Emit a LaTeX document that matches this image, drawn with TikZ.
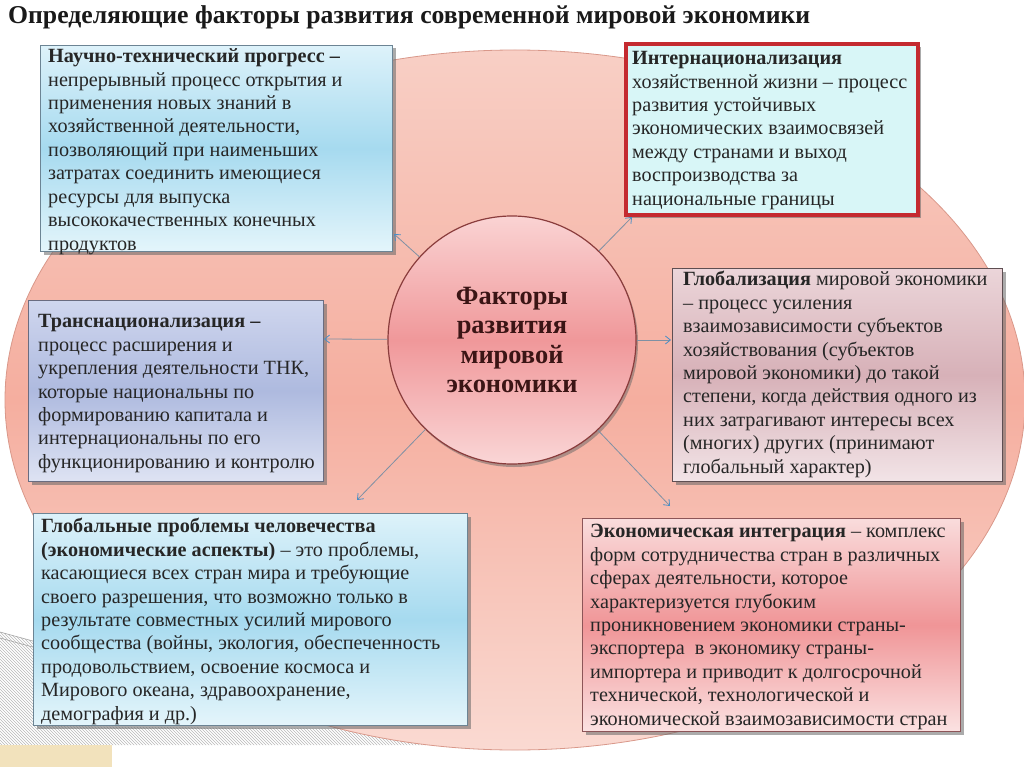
\documentclass[tikz,border=0pt]{standalone}
\usepackage{fontspec}
\setmainfont{Liberation Serif}
\usetikzlibrary{shadows,arrows.meta,patterns}
\definecolor{ellT}{HTML}{F8CFC5}
\definecolor{ellM}{HTML}{F5AE9F}
\definecolor{ellB}{HTML}{FADAD2}
\definecolor{ellbd}{HTML}{D9988A}
\definecolor{blueT}{HTML}{DDF2FA}
\definecolor{blueM}{HTML}{A6DAEF}
\definecolor{blueB}{HTML}{E4F5FB}
\definecolor{bluebd}{HTML}{6C8494}
\definecolor{cyanF}{HTML}{D8F6F7}
\definecolor{redbd}{HTML}{C42A30}
\definecolor{lavT}{HTML}{CFD6EE}
\definecolor{lavM}{HTML}{AEBADF}
\definecolor{lavB}{HTML}{DEE3F3}
\definecolor{lavbd}{HTML}{6A6C80}
\definecolor{mauT}{HTML}{EBD5D9}
\definecolor{mauM}{HTML}{D7B1B8}
\definecolor{mauB}{HTML}{F2E4E7}
\definecolor{maubd}{HTML}{5E4E52}
\definecolor{pnkT}{HTML}{F9DCDC}
\definecolor{pnkM}{HTML}{F09597}
\definecolor{pnkB}{HTML}{FBE2E2}
\definecolor{pnkbd}{HTML}{8C5558}
\definecolor{cirT}{HTML}{FAD3D3}
\definecolor{cirM}{HTML}{F0989A}
\definecolor{cirB}{HTML}{FAD6D6}
\definecolor{cirbd}{HTML}{8A3C3C}
\definecolor{arrc}{HTML}{7E90A4}
\definecolor{tipc}{HTML}{4A8EC6}
\definecolor{txtc}{HTML}{262626}
\definecolor{beige}{HTML}{F2E2BC}
\definecolor{circtxt}{HTML}{3B1515}
\begin{document}
\begin{tikzpicture}[x=1pt,y=-1pt,
  boxbase/.style={draw, line width=1pt, inner sep=0pt, anchor=north west,
    drop shadow={shadow xshift=3pt,shadow yshift=-3pt,fill=black!60,opacity=0.55}},
  bluebox/.style={boxbase, draw=bluebd, top color=blueT, bottom color=blueB, middle color=blueM},
  redbox/.style={boxbase, draw=redbd, line width=4pt, fill=cyanF},
  lavbox/.style={boxbase, draw=lavbd, top color=lavT, bottom color=lavB, middle color=lavM},
  maubox/.style={boxbase, draw=maubd, top color=mauT, bottom color=mauB, middle color=mauM},
  pnkbox/.style={boxbase, draw=pnkbd, top color=pnkT, bottom color=pnkB, middle color=pnkM},
  txt/.style={anchor=north west, inner sep=0pt, align=left, text=txtc,
    font=\fontsize{20.2}{23.4}\selectfont},
  circ/.style={circle, draw=cirbd, line width=1.2pt, top color=cirT, bottom color=cirB, middle color=cirM,
    minimum size=248pt, inner sep=0pt, align=center, text=circtxt,
    font=\bfseries\fontsize{26.4}{29.5}\selectfont,
    drop shadow={shadow xshift=2pt,shadow yshift=-3pt,fill=black!60,opacity=0.5}},
  arr/.style={draw=arrc, line width=0.8pt, -{Straight Barb[length=5pt,width=8pt,color=tipc]}},
]
\useasboundingbox (0,0) rectangle (1024,767);
\fill[white] (0,0) rectangle (1024,767);
% decorations
\fill[pattern=north west lines, pattern color=gray!55] (0,632) -- (40,643) -- (40,726) -- (470,730) -- (470,745) -- (0,745) -- cycle;
\draw[gray!70, line width=0.6pt] (0,632) -- (40,643);
\draw[gray!70, line width=0.6pt] (0,638) -- (40,649);
\fill[beige] (0,745) rectangle (112,767);
% background ellipse
\path[draw=ellbd, line width=0.8pt, top color=ellT, bottom color=ellB, middle color=ellM]
  (515,400) ellipse [x radius=510, y radius=350];
% title
\node[anchor=west, inner sep=0pt, text=black!90, font=\bfseries\fontsize{25.7}{30}\selectfont] (title) at (8,17)
  {Определяющие факторы развития современной мировой экономики};
% boxes
\node[bluebox, minimum width=352pt, minimum height=206pt] (ntp) at (40,45) {};
\node[redbox, minimum width=292pt, minimum height=171pt] (intl) at (624,42) {};
\node[lavbox, minimum width=295pt, minimum height=181pt] (trans) at (28,300) {};
\node[maubox, minimum width=330pt, minimum height=213pt] (glob) at (672,268) {};
\node[bluebox, minimum width=434pt, minimum height=212pt] (probl) at (33,513) {};
\node[pnkbox, minimum width=378pt, minimum height=213pt] (integ) at (582,518) {};
% texts
\node[txt] (tntp) at (48,47) {\rule{0pt}{15.6pt}\textbf{Научно-технический прогресс –}\\
непрерывный процесс открытия и\\
применения новых знаний в\\
хозяйственной деятельности,\\
позволяющий при наименьших\\
затратах соединить имеющиеся\\
ресурсы для выпуска\\
высококачественных конечных\\
продуктов};
\node[txt] (tintl) at (632,49) {\rule{0pt}{15.6pt}\textbf{Интернационализация}\\
хозяйственной жизни – процесс\\
развития устойчивых\\
экономических взаимосвязей\\
между странами и выход\\
воспроизводства за\\
национальные границы};
\node[txt] (ttrans) at (38,312) {\rule{0pt}{15.6pt}\textbf{Транснационализация –}\\
процесс расширения и\\
укрепления деятельности ТНК,\\
которые национальны по\\
формированию капитала и\\
интернациональны по его\\
функционированию и контролю};
\node[txt] (tglob) at (683,270) {\rule{0pt}{15.6pt}\textbf{Глобализация} мировой экономики\\
– процесс усиления\\
взаимозависимости субъектов\\
хозяйствования (субъектов\\
мировой экономики) до такой\\
степени, когда действия одного из\\
них затрагивают интересы всех\\
(многих) других (принимают\\
глобальный характер)};
\node[txt] (tprobl) at (41,517) {\rule{0pt}{15.6pt}\textbf{Глобальные проблемы человечества}\\
\textbf{(экономические аспекты)} – это проблемы,\\
касающиеся всех стран мира и требующие\\
своего разрешения, что возможно только в\\
результате совместных усилий мирового\\
сообщества (войны, экология, обеспеченность\\
продовольствием, освоение космоса и\\
Мирового океана, здравоохранение,\\
демография и др.)};
\node[txt] (tinteg) at (590,522) {\rule{0pt}{15.6pt}\textbf{Экономическая интеграция} – комплекс\\
форм сотрудничества стран в различных\\
сферах деятельности, которое\\
характеризуется глубоким\\
проникновением экономики страны-\\
экспортера\ \ в экономику страны-\\
импортера и приводит к долгосрочной\\
технической, технологической и\\
экономической взаимозависимости стран};
% centre
\node[circ] (c) at (512,340) {Факторы\\развития\\мировой\\экономики};
% arrow ends
\coordinate (e1) at (394,234);
\coordinate (e2) at (632,217);
\coordinate (e3) at (324,339);
\coordinate (e4) at (671,340);
\coordinate (e5) at (357,500);
\coordinate (e6) at (670,506);
\draw[arr] (c) -- (e1);
\draw[arr] (c) -- (e2);
\draw[arr] (c) -- (e3);
\draw[arr] (c) -- (e4);
\draw[arr] (c) -- (e5);
\draw[arr] (c) -- (e6);
\end{tikzpicture}
\end{document}
